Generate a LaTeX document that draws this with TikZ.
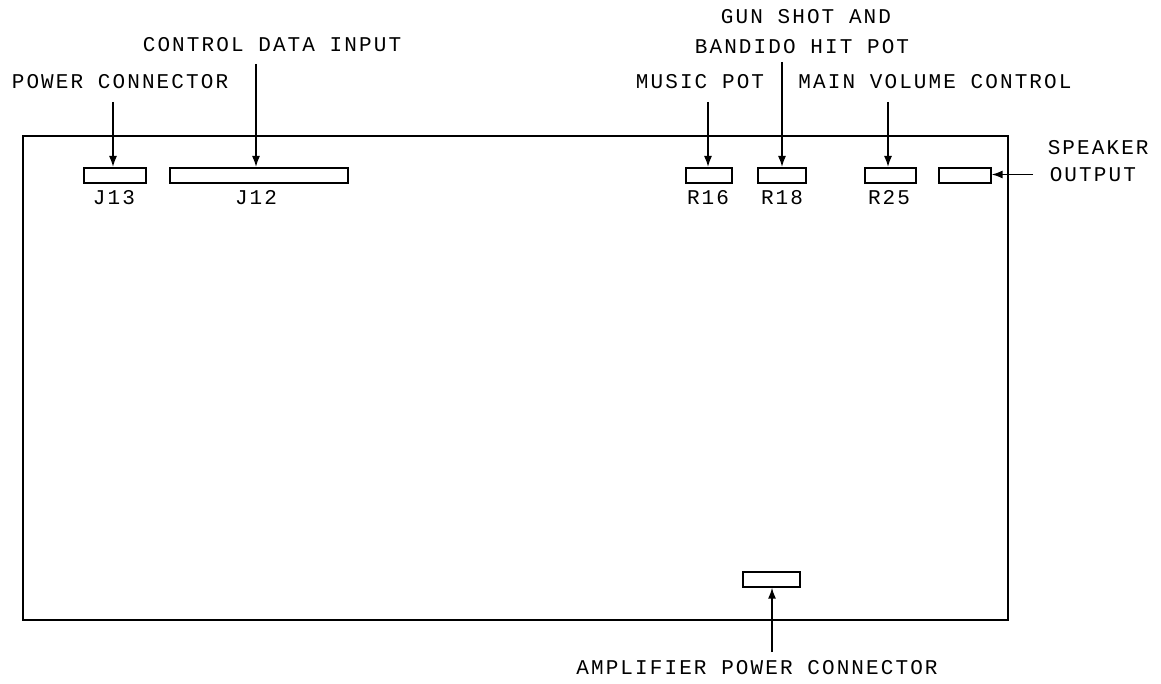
\documentclass[tikz,border=0pt]{standalone}
\usepackage{fontspec}
\newfontfamily\labelfont[LetterSpace=10]{Liberation Mono}
\usetikzlibrary{arrows.meta}
\begin{document}
\begin{tikzpicture}[x=1pt,y=-1pt,
  part/.style={draw,line width=1.6pt,minimum height=15pt,inner sep=0pt,anchor=north west},
  lbl/.style={inner sep=0pt,font=\fontsize{21}{24}\labelfont},
  ptr/.style={line width=1.6pt,-{Latex[length=11pt,width=8pt]}},
  line width=1.6pt]
\useasboundingbox (0,0) rectangle (1161,684);
\node[draw,line width=1.8pt,minimum width=985pt,minimum height=484pt,anchor=north west,inner sep=0pt] (board) at (22,135) {};
% parts
\node[part,minimum width=62pt] (J13) at (83,167) {};
\node[part,minimum width=178pt] (J12) at (169,167) {};
\node[part,minimum width=46pt] (R16) at (685,167) {};
\node[part,minimum width=48pt] (R18) at (757,167) {};
\node[part,minimum width=51pt] (R25) at (864,167) {};
\node[part,minimum width=52pt] (SPK) at (938,167) {};
\node[part,minimum width=57pt] (AMP) at (742,571) {};
% part labels
\node[lbl] (lJ13) at (114,198) {J13};
\node[lbl] (lJ12) at (256,198) {J12};
\node[lbl] (lR16) at (708,198) {R16};
\node[lbl] (lR18) at (782,198) {R18};
\node[lbl] (lR25) at (889,198) {R25};
% callout labels
\node[lbl] (tPow) at (120,82) {POWER CONNECTOR};
\node[lbl] (tCtl) at (272,45) {CONTROL DATA INPUT};
\node[lbl] (tMus) at (700,82) {MUSIC POT};
\node[lbl] (tGun1) at (806,17) {GUN SHOT AND};
\node[lbl] (tGun2) at (802,47) {BANDIDO HIT POT};
\node[lbl] (tVol) at (935,82) {MAIN VOLUME CONTROL};
\node[lbl,anchor=west] (tSpk1) at (1047,148) {SPEAKER};
\node[lbl,anchor=west] (tSpk2) at (1049,175) {OUTPUT};
\node[lbl] (tAmp) at (757,668) {AMPLIFIER POWER CONNECTOR};
% free ends
\coordinate (sPow) at (113,102);
\coordinate (sCtl) at (256,64);
\coordinate (sMus) at (708,102);
\coordinate (sGun) at (782,62);
\coordinate (sVol) at (888,102);
\coordinate (sSpk) at (1033,174.5);
\coordinate (sAmp) at (772,652);
% pointers
\draw[ptr] (sPow) -- (sPow |- J13.north);
\draw[ptr] (sCtl) -- (sCtl |- J12.north);
\draw[ptr] (sMus) -- (sMus |- R16.north);
\draw[ptr] (sGun) -- (sGun |- R18.north);
\draw[ptr] (sVol) -- (sVol |- R25.north);
\draw[ptr] (sSpk) -- (sSpk -| SPK.east);
\draw[ptr] (sAmp) -- (sAmp |- AMP.south);
\end{tikzpicture}
\end{document}
